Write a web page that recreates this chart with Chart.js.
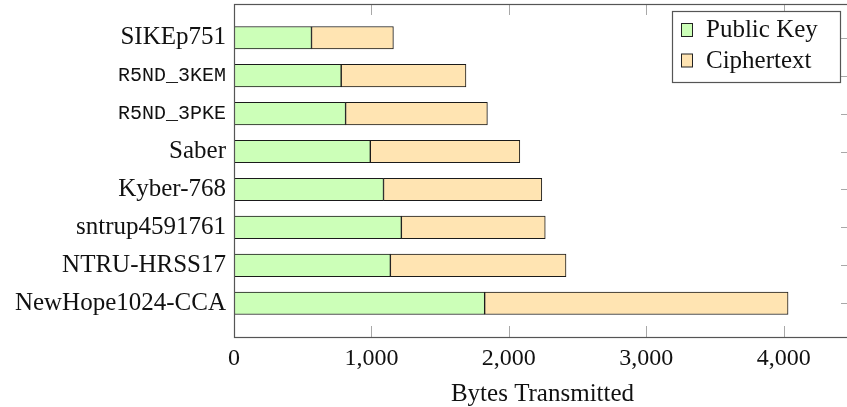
<!DOCTYPE html>
<html>
<head>
<meta charset="utf-8">
<script src="https://cdn.jsdelivr.net/npm/chart.js@4"></script>
<style>
  html, body { margin: 0; padding: 0; background: #fff; overflow: hidden; }
  #wrap { width: 860px; height: 407px; }
</style>
</head>
<body>
<div id="wrap"><canvas id="c" width="860" height="407"></canvas></div>
<script>
// ---- data ----
const categories = ['SIKEp751', 'R5ND_3KEM', 'R5ND_3PKE', 'Saber', 'Kyber-768', 'sntrup4591761', 'NTRU-HRSS17', 'NewHope1024-CCA'];
const typewriterLabels = ['R5ND_3KEM', 'R5ND_3PKE'];
const publicKey  = [564, 780, 812, 992, 1088, 1218, 1138, 1824];
const ciphertext = [596, 908, 1032, 1088, 1152, 1047, 1278, 2208];
const xTicks = [0, 1000, 2000, 3000, 4000];
const seriesNames = ['Public Key', 'Ciphertext'];
const xTitle = 'Bytes Transmitted';

const GREEN = '#ccffb8';
const TAN = '#ffe4b2';
const SERIF = '"Liberation Serif", "Times New Roman", serif';
const MONO = '"Liberation Mono", "DejaVu Sans Mono", monospace';

const toPoints = (arr) => arr.map((v, i) => ({ x: v, y: i }));

const framePlugin = {
  id: 'frame',
  afterDraw(chart) {
    const { ctx, chartArea: a, scales } = chart;
    const xs = scales.x, ys = scales.y;
    ctx.save();
    // inner tick marks
    ctx.strokeStyle = '#a8a8a8';
    ctx.lineWidth = 1;
    ctx.beginPath();
    xs.ticks.forEach(t => {
      const px = Math.round(xs.getPixelForValue(t.value)) + 0.5;
      ctx.moveTo(px, a.bottom); ctx.lineTo(px, a.bottom - 11);
      ctx.moveTo(px, a.top); ctx.lineTo(px, a.top + 11);
    });
    ys.ticks.forEach(t => {
      const py = Math.round(ys.getPixelForValue(t.value)) + 0.5;
      ctx.moveTo(a.right, py); ctx.lineTo(a.right - 10, py);
    });
    ctx.stroke();
    // frame
    ctx.strokeStyle = '#555';
    ctx.lineWidth = 1.2;
    ctx.strokeRect(a.left + 0.5, a.top + 0.5, a.right - a.left, a.bottom - a.top);
    // legend
    const lx = 672.5, ly = 11.5, lw = 168, lh = 71;
    ctx.fillStyle = '#fff';
    ctx.fillRect(lx, ly, lw, lh);
    ctx.strokeStyle = '#555';
    ctx.lineWidth = 1.2;
    ctx.strokeRect(lx, ly, lw, lh);
    const ds = chart.data.datasets;
    ctx.font = '25px ' + SERIF;
    ctx.textBaseline = 'alphabetic';
    ctx.textAlign = 'left';
    ds.forEach((d, i) => {
      const sy = 23.5 + i * 30.5;
      ctx.fillStyle = d.backgroundColor;
      ctx.fillRect(681.5, sy, 11, 13);
      ctx.strokeStyle = '#222';
      ctx.lineWidth = 1;
      ctx.strokeRect(681.5, sy, 11, 13);
      ctx.fillStyle = '#111';
      ctx.fillText(d.label, 706, 37 + i * 30.5);
    });
    ctx.restore();
  }
};

new Chart(document.getElementById('c'), {
  type: 'bar',
  data: {
    datasets: [
      { label: seriesNames[0], data: toPoints(publicKey), backgroundColor: GREEN },
      { label: seriesNames[1], data: toPoints(ciphertext), backgroundColor: TAN }
    ]
  },
  options: {
    indexAxis: 'y',
    responsive: false,
    animation: false,
    layout: { padding: { top: 4, right: 9, left: 0, bottom: 0 } },
    datasets: {
      bar: { barThickness: 22.5, borderWidth: 1, borderColor: '#1a1a1a', borderSkipped: false }
    },
    plugins: {
      legend: { display: false },
      tooltip: { enabled: false }
    },
    scales: {
      x: {
        type: 'linear',
        stacked: true,
        min: 0,
        max: 4490,
        offset: false,
        grid: { display: false, drawTicks: false },
        border: { display: false },
        afterBuildTicks: (s) => { s.ticks = xTicks.map(v => ({ value: v })); },
        afterFit: (s) => { s.height = 70; s.paddingLeft = 0; s.paddingRight = 0; },
        ticks: {
          padding: 7,
          color: '#111',
          font: { family: SERIF, size: 24 },
          callback: (v) => Number(v).toLocaleString('en-US')
        },
        title: {
          display: true,
          text: xTitle,
          color: '#111',
          font: { family: SERIF, size: 25 },
          padding: { top: 0, bottom: -2 }
        }
      },
      y: {
        type: 'linear',
        stacked: true,
        reverse: true,
        offset: false,
        min: -0.89,
        max: 7.89,
        grid: { display: false, drawTicks: false, offset: false },
        border: { display: false },
        afterBuildTicks: (s) => { s.ticks = categories.map((_, i) => ({ value: i })); },
        afterFit: (s) => { s.width = 234; s.paddingTop = 0; s.paddingBottom = 0; },
        ticks: {
          autoSkip: false,
          padding: 8,
          color: '#111',
          callback: (v) => categories[v],
          font: (ctx) => {
            const lab = categories[ctx.tick ? ctx.tick.value : ctx.index];
            return typewriterLabels.includes(lab)
              ? { family: MONO, size: 20 }
              : { family: SERIF, size: 25 };
          }
        }
      }
    }
  },
  plugins: [framePlugin]
});
</script>
</body>
</html>
